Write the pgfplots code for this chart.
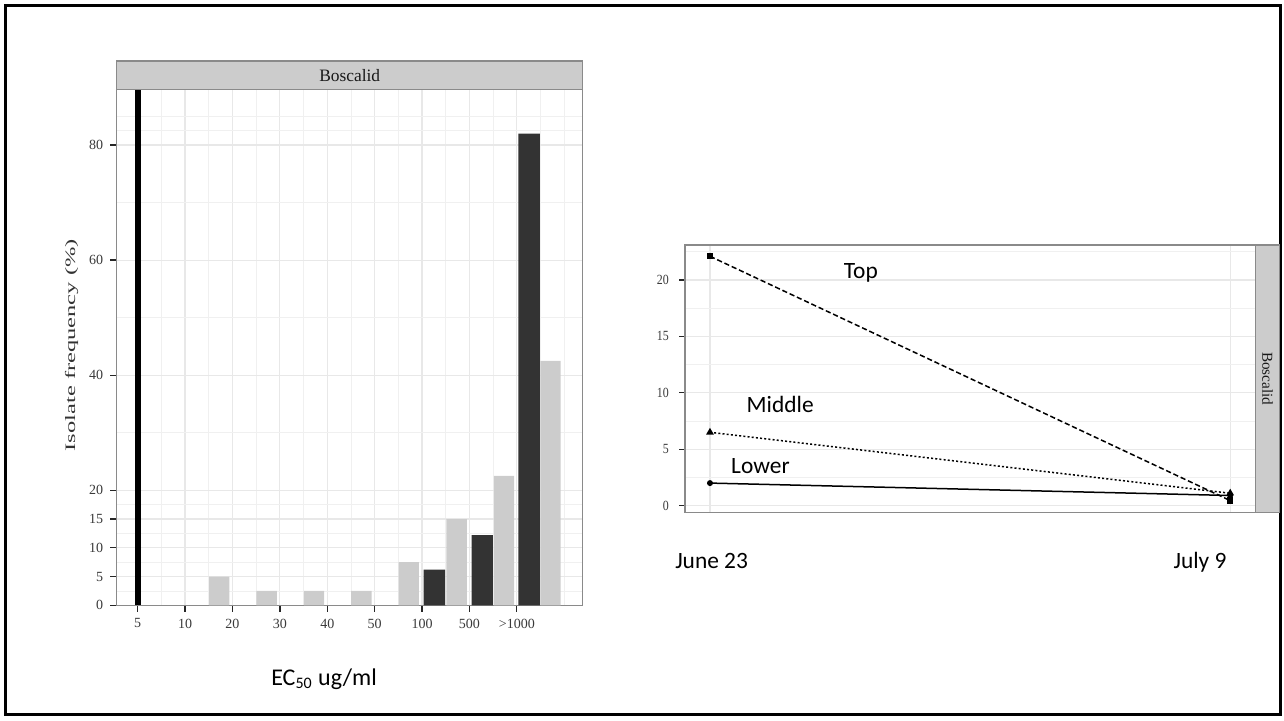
\documentclass[border=0pt]{standalone}
\usepackage{pgfplots}
\pgfplotsset{compat=1.18}
\usepackage{pgfplotstable}
\usepackage{fontspec}
\usepackage{graphicx}
\setmainfont{Liberation Serif}
\newfontfamily\calfont{Carlito}
\newfontfamily\serfont{Liberation Serif}
\definecolor{barlight}{HTML}{CCCCCC}
\definecolor{bardark}{HTML}{333333}
\definecolor{gridmaj}{HTML}{E8E8E8}
\definecolor{gridmin}{HTML}{F0F0F0}
\definecolor{panelborder}{HTML}{8A8A8A}
\definecolor{stripfill}{HTML}{CCCCCC}
\definecolor{ticktext}{HTML}{3A3A3A}

% light grey bars (position, value)
\pgfplotstableread{
x y
2.72 5
3.72 2.5
4.72 2.5
5.72 2.5
6.72 7.5
7.73 15
8.73 22.5
9.71 42.5
}\lighttab
% dark bars
\pgfplotstableread{
x y
7.26 6.2
8.27 12.2
9.26 82
}\darktab
% black bar at 5
\pgfplotstableread{
x y
1 100
}\blacktab

\begin{document}
\begin{tikzpicture}[x=1pt,y=1pt]
\useasboundingbox (0pt,0pt) rectangle (642pt,360pt);
\draw[line width=1.5pt, black] (2.75pt,2.75pt) rectangle (640.25pt,357.25pt);

% ---------------- left panel ----------------
\begin{axis}[
  at={(58.35pt,57.35pt)}, anchor=south west,
  scale only axis, width=233pt, height=258pt,
  xmin=0.557, xmax=10.39, ymin=0, ymax=89.7,
  axis line style={panelborder, line width=0.7pt},
  xtick={1,...,9},
  xticklabels={5,10,20,30,40,50,100,500,>1000},
  minor xtick={1.5,2.5,3.5,4.5,5.5,6.5,7.5,8.5,9.5,10},
  ytick={0,5,10,15,20,40,60,80},
  minor ytick={2.5,7.5,12.5,17.5,30,50,70,82.5,85},
  grid=both,
  major grid style={gridmaj, line width=0.6pt},
  minor grid style={gridmin, line width=0.4pt},
  tick align=outside, major tick length=3.2pt, minor tick length=0pt,
  xtick pos=bottom, ytick pos=left,
  tick style={black!85, line width=0.65pt},
  /pgf/number format/assume math mode=true,
  ticklabel style={font=\serfont\fontsize{7}{8}\selectfont, text=ticktext},
  ylabel={\scalebox{1.7}[1]{\fontsize{7.2}{8}\selectfont Isolate frequency (\%)}},
  ylabel style={at={(axis description cs:-0.0966,0.504)}, anchor=center, rotate=0, text=black!80},
  xlabel={\calfont\fontsize{12}{14}\selectfont EC\textsubscript{50} ug/ml},
  xlabel style={at={(axis description cs:0.445,-0.1545)}, anchor=base},
  clip=true,
]
\addplot[ybar, bar width=0.43, bar shift=0pt, fill=barlight, draw=none] table[x=x,y=y]{\lighttab};
\addplot[ybar, bar width=0.45, bar shift=0pt, fill=bardark, draw=none] table[x=x,y=y]{\darktab};
\addplot[ybar, bar width=0.12, bar shift=0pt, fill=black, draw=none] table[x=x,y=y]{\blacktab};
\end{axis}
\draw[fill=stripfill, draw=panelborder, line width=0.7pt] (58.35pt,315.35pt) rectangle (291.35pt,329.5pt);
\node[font=\serfont\fontsize{8.7}{10}\selectfont, text=black!90] at (174.85pt,322.4pt) {Boscalid};

% ---------------- right panel ----------------
\begin{axis}[
  at={(342.5pt,103.85pt)}, anchor=south west,
  scale only axis, width=285.35pt, height=133.65pt,
  xmin=0.952, xmax=2.049, ymin=-0.59, ymax=23.1,
  axis line style={panelborder, line width=0.7pt},
  xtick={1,2}, xticklabels={,},
  ytick={0,5,10,15,20},
  minor ytick={2.5,7.5,12.5,17.5,22.5},
  grid=both,
  major grid style={gridmaj, line width=0.6pt},
  minor grid style={gridmin, line width=0.4pt},
  tick align=outside, major tick length=3pt, minor tick length=0pt,
  xtick pos=bottom, ytick pos=left,
  tick style={black!85, line width=0.65pt},
  xtick style={draw=none},
  /pgf/number format/assume math mode=true,
  yticklabel style={font=\serfont\fontsize{7}{8}\selectfont, text=ticktext, xscale=0.85, xshift=-2.5pt},
  clip=false,
]
\addplot[black, line width=0.75pt, dash pattern=on 2.6pt off 1.4pt, mark=square*, mark size=1.2pt, mark options={solid}] coordinates {(1,22.1) (2,0.45)};
\addplot[black, line width=0.75pt, dash pattern=on 1pt off 1.1pt, mark=triangle*, mark size=1.5pt, mark options={solid}] coordinates {(1,6.5) (2,1.1)};
\addplot[black, line width=0.75pt, mark=*, mark size=1.1pt] coordinates {(1,2.0) (2,0.9)};
\node[font=\calfont\fontsize{11.7}{13}\selectfont] at (axis cs:1.29,20.6) {Top};
\node[font=\calfont\fontsize{11.7}{13}\selectfont] at (axis cs:1.135,8.93) {Middle};
\node[font=\calfont\fontsize{11.7}{13}\selectfont] at (axis cs:1.097,3.52) {Lower};
\end{axis}
\draw[fill=stripfill, draw=panelborder, line width=0.7pt] (627.85pt,103.85pt) rectangle (639.65pt,237.5pt);
\node[font=\serfont\fontsize{7.6}{9}\selectfont, text=black!90, rotate=-90] at (633.75pt,170.7pt) {Boscalid};

\node[font=\calfont\fontsize{11.7}{13}\selectfont, anchor=base] at (355.8pt,76pt) {June 23};
\node[font=\calfont\fontsize{11.7}{13}\selectfont, anchor=base] at (600pt,76pt) {July 9};
\end{tikzpicture}
\end{document}
